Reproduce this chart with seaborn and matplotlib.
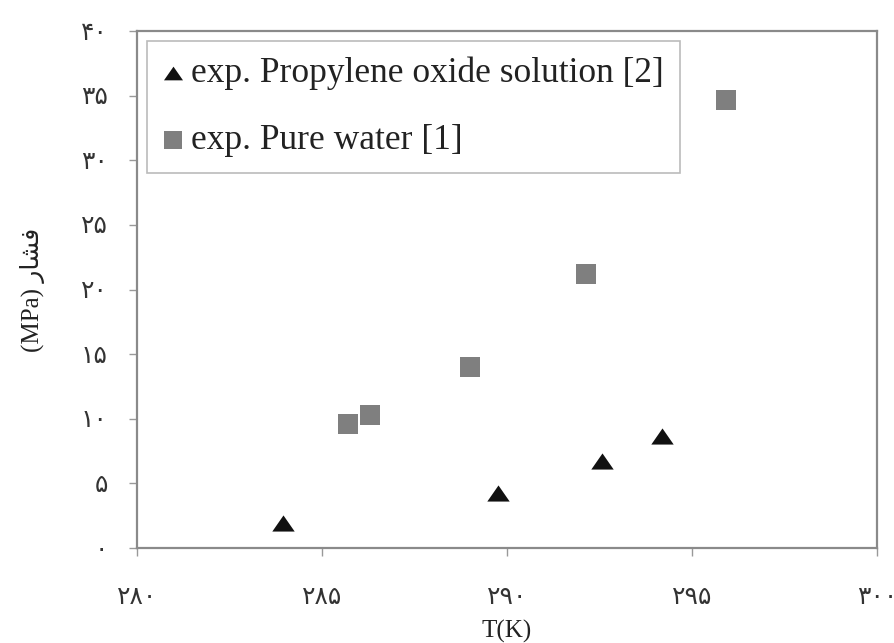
import pandas as pd
import numpy as np
import matplotlib
matplotlib.use("Agg")
import matplotlib.pyplot as plt
import seaborn as sns

sns.set_style("white")
plt.rcParams['font.family'] = ['Liberation Serif', 'DejaVu Sans']

# data
t_po = [283.95, 289.76, 292.57, 294.19]
p_po = [1.9, 4.25, 6.73, 8.66]
t_water = [285.70, 286.30, 289.0, 292.14, 295.92]
p_water = [9.59, 10.29, 14.0, 21.2, 34.7]

label_po = 'exp. Propylene oxide solution [2]'
label_water = 'exp. Pure water [1]'

x_ticks = [280, 285, 290, 295, 300]
y_ticks = [0, 5, 10, 15, 20, 25, 30, 35, 40]

def fa_digits(v):
    return str(v).translate(str.maketrans('0123456789', '۰۱۲۳۴۵۶۷۸۹'))

df_po = pd.DataFrame({'T': t_po, 'P': p_po})
df_water = pd.DataFrame({'T': t_water, 'P': p_water})

fig = plt.figure(figsize=(8.95, 6.43), dpi=100)
ax = fig.add_axes([0.153, 0.1477, 0.827, 0.804])

tri = [(-1, -0.72), (1, -0.72), (0, 0.72)]
sns.scatterplot(x='T', y='P', data=df_po, ax=ax, marker=tri, color='#111111',
                s=260, linewidth=0, label=label_po)
sns.scatterplot(x='T', y='P', data=df_water, ax=ax, marker='s', color='#7f7f7f',
                s=210, linewidth=0, label=label_water)

ax.set_xlim(280, 300)
ax.set_ylim(0, 40)
ax.set_xticks(x_ticks)
ax.set_xticklabels([fa_digits(v) for v in x_ticks])
ax.set_yticks(y_ticks)
ax.set_yticklabels([fa_digits(v) for v in y_ticks])
ax.tick_params(axis='both', direction='out', length=6, width=1, color='#999999',
               bottom=True, left=True, labelsize=18, labelcolor='#333333')
ax.tick_params(axis='x', pad=22)
ax.tick_params(axis='y', pad=15)

for sp in ax.spines.values():
    sp.set_color('#8a8a8a')
    sp.set_linewidth(1.6)

ax.set_xlabel('T(K)', fontsize=18, labelpad=8, color='#222222')
# Persian "فشار" in presentation forms, visual order
ax.set_ylabel('(MPa) \uFEAD\uFE8E\uFEB8\uFED3', fontsize=18, labelpad=26, color='#222222')

leg = ax.legend(loc='upper left', bbox_to_anchor=(0.0135, 0.981), borderaxespad=0,
                fontsize=25.5, frameon=True, fancybox=False, handlelength=0.55,
                handletextpad=0.25, labelspacing=0.95, borderpad=0.45, markerscale=0.85)
leg.get_frame().set_edgecolor('#aaaaaa')
leg.get_frame().set_linewidth(1.2)
for txt in leg.get_texts():
    txt.set_color('#222222')

fig.savefig('out.png', dpi=100)
